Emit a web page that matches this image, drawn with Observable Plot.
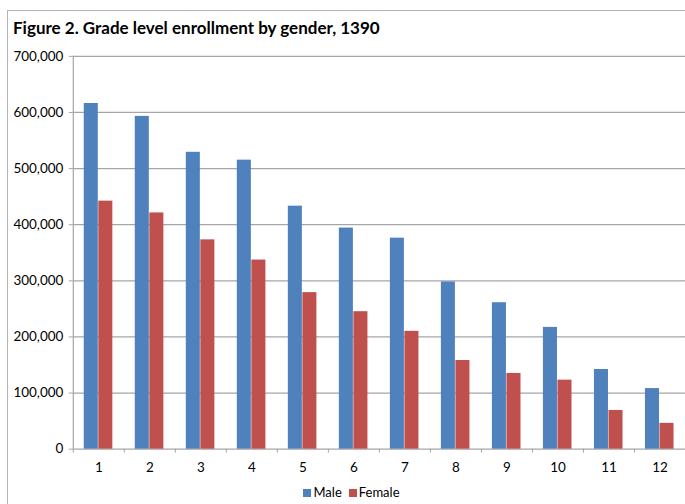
<!DOCTYPE html>
<html>
<head>
<meta charset="utf-8">
<script src="https://cdn.jsdelivr.net/npm/d3@7"></script>
<script src="https://cdn.jsdelivr.net/npm/@observablehq/plot@0.6"></script>
<style>
  html, body { margin: 0; padding: 0; background: #fff; }
  body { width: 685px; height: 504px; overflow: hidden; position: relative; font-family: Lato, "Open Sans", sans-serif; }
  #frame { position: absolute; left: 7px; top: 10px; width: 720px; height: 540px; border: 1.5px solid #b4b4b4; box-sizing: border-box; }
  #title { position: absolute; left: 13px; top: 17px; font-weight: bold; font-size: 17px; color: #000; white-space: nowrap; }
  #chart { position: absolute; left: 0; top: 0; }
  #legend { position: absolute; left: 0; width: 702px; top: 484px; text-align: center; font-size: 13px; color: #000; }
  #legend span.sw { display: inline-block; width: 8px; height: 8px; margin-right: 2px; vertical-align: 0px; }
  #legend span.item { margin: 0 3px 0 4px; }
</style>
</head>
<body>
<div id="frame"></div>
<div id="title">Figure 2. Grade level enrollment by gender, 1390</div>
<div id="chart"></div>
<div id="legend"></div>
<script>
const grades = [1, 2, 3, 4, 5, 6, 7, 8, 9, 10, 11, 12];
const male   = [616000, 593000, 529000, 515000, 433000, 394000, 376000, 298000, 261000, 217000, 142000, 108000];
const female = [442000, 421000, 373000, 337000, 279000, 245000, 210000, 158000, 135000, 123000, 69000, 46000];
const yTicks = [0, 100000, 200000, 300000, 400000, 500000, 600000, 700000];
const seriesNames = ["Male", "Female"];
const seriesColors = ["#4F81BD", "#C0504D"];

const barW = 0.285; // fraction of a category step per bar
const data = grades.flatMap((g, i) => [
  {grade: g, gender: "Male", value: male[i]},
  {grade: g, gender: "Female", value: female[i]}
]);
const boundaries = [grades[0] - 0.5, ...grades.map(g => g + 0.5)];

const chart = Plot.plot({
  width: 687,
  height: 504,
  marginTop: 56,
  marginBottom: 54,
  marginLeft: 73,
  marginRight: 0,
  style: {fontFamily: "Lato, 'Open Sans', sans-serif", fontSize: "13.5px", color: "#000", background: "transparent"},
  x: {domain: [boundaries[0], boundaries[boundaries.length - 1]]},
  y: {domain: [0, 700000]},
  color: {domain: seriesNames, range: seriesColors},
  marks: [
    Plot.gridY(yTicks, {stroke: "#a6a6a6", strokeOpacity: 1, strokeWidth: 1.2}),
    Plot.axisY({ticks: yTicks, tickFormat: d3.format(","), tickSize: 4, tickPadding: 6, stroke: "#a6a6a6", fill: "#000", fontSize: 13.5, label: null}),
    Plot.rectY(data, {
      x1: d => d.gender === "Male" ? d.grade - barW : d.grade,
      x2: d => d.gender === "Male" ? d.grade : d.grade + barW,
      y1: 0,
      y2: "value",
      fill: "gender",
      insetRight: 0.5
    }),
    Plot.ruleX([boundaries[0]], {stroke: "#a6a6a6", strokeWidth: 1.2}),
    Plot.axisX({ticks: boundaries, tickFormat: () => "", tickSize: 4, stroke: "#a6a6a6", label: null}),
    Plot.axisX({ticks: grades, tickFormat: d => String(d), tickSize: 0, tickPadding: 13, fill: "#000", fontSize: 13.5, label: null})
  ]
});
document.getElementById("chart").appendChild(chart);

const legend = document.getElementById("legend");
seriesNames.forEach((name, i) => {
  const item = document.createElement("span");
  item.className = "item";
  const sw = document.createElement("span");
  sw.className = "sw";
  sw.style.background = seriesColors[i];
  item.appendChild(sw);
  item.appendChild(document.createTextNode(name));
  legend.appendChild(item);
});
</script>
</body>
</html>
